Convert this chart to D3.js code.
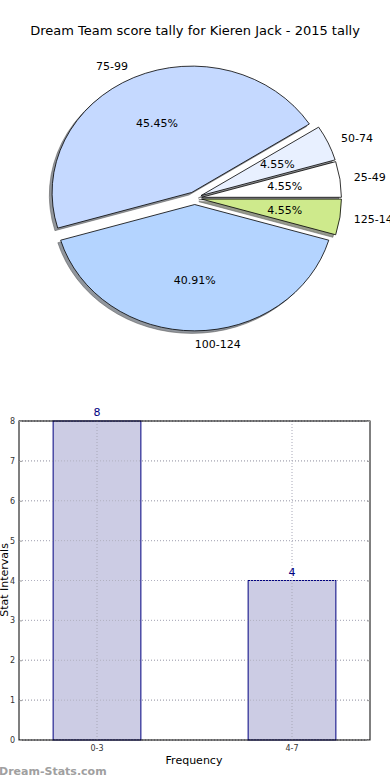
<!DOCTYPE html>
<html>
<head>
<meta charset="utf-8">
<script src="https://d3js.org/d3.v7.min.js"></script>
<style>
  body { margin: 0; background: #fff; }
  svg { display: block; font-family: "DejaVu Sans", sans-serif; }
</style>
</head>
<body>
<svg></svg>
<script>
// pie data (matplotlib order: counter-clockwise from 3 o'clock)
const pieLabels = ["25-49", "50-74", "75-99", "100-124", "125-149"];
const pieCounts = [1, 1, 10, 9, 1];
const pieColors = ["#ffffff", "#e8f0ff", "#c5d9ff", "#b4d4ff", "#ceea8c"];

// bar data
const barCats = ["0-3", "4-7"];
const barValues = [8, 4];
const yTicks = [0, 1, 2, 3, 4, 5, 6, 7, 8];

const width = 390, height = 780;
const svg = d3.select("svg").attr("width", width).attr("height", height);

svg.append("text")
    .attr("x", 195).attr("y", 35)
    .attr("text-anchor", "middle")
    .style("font-size", "13px")
    .text("Dream Team score tally for Kieren Jack - 2015 tally");

// ---- pie ----
const cx = 194.7, cy = 198.2, rx = 139.8, ry = 126.5;
const explode = 0.05;
const total = d3.sum(pieCounts);

const pie = d3.pie().sort(null)
    .startAngle(Math.PI / 2)
    .endAngle(Math.PI / 2 - 2 * Math.PI);
const arcs = pie(pieCounts);
const arc = d3.arc().innerRadius(0).outerRadius(1);

function offset(d, k) {
    const a = (d.startAngle + d.endAngle) / 2;
    return [cx + k * rx * Math.sin(a), cy - k * ry * Math.cos(a)];
}

const pieG = svg.append("g");
// shadows first
pieG.selectAll(".shadow")
    .data(arcs)
    .enter().append("path")
    .attr("class", "shadow")
    .attr("d", arc)
    .attr("transform", d => {
        const p = offset(d, explode);
        return `translate(${p[0] - 0.02 * rx},${p[1] + 0.02 * ry}) scale(${rx},${ry})`;
    })
    .style("fill", (d, i) => {
        const c = d3.rgb(pieColors[i]);
        return d3.rgb(c.r * 0.3, c.g * 0.3, c.b * 0.3);
    })
    .style("fill-opacity", 0.55)
    .style("stroke", "#555")
    .style("stroke-opacity", 0.5)
    .style("stroke-width", 1)
    .attr("vector-effect", "non-scaling-stroke");

pieG.selectAll(".wedge")
    .data(arcs)
    .enter().append("path")
    .attr("class", "wedge")
    .attr("d", arc)
    .attr("transform", d => {
        const p = offset(d, explode);
        return `translate(${p[0]},${p[1]}) scale(${rx},${ry})`;
    })
    .style("fill", (d, i) => pieColors[i])
    .style("stroke", "#000")
    .style("stroke-width", 0.8)
    .attr("vector-effect", "non-scaling-stroke");

// outer labels
pieG.selectAll(".lbl")
    .data(arcs)
    .enter().append("text")
    .attr("class", "lbl")
    .attr("x", d => offset(d, explode + 1.1)[0])
    .attr("y", d => offset(d, explode + 1.1)[1])
    .attr("dy", "0.35em")
    .attr("text-anchor", d => offset(d, explode + 1.1)[0] >= cx - 1 ? "start" : "end")
    .style("font-size", "11px")
    .text((d, i) => pieLabels[i]);

// percentage labels
pieG.selectAll(".pct")
    .data(arcs)
    .enter().append("text")
    .attr("class", "pct")
    .attr("x", d => offset(d, explode + 0.6)[0])
    .attr("y", d => offset(d, explode + 0.6)[1])
    .attr("dy", "0.35em")
    .attr("text-anchor", "middle")
    .style("font-size", "11px")
    .text(d => (d.value / total * 100).toFixed(2) + "%");

// ---- bar chart ----
const plotL = 19, plotR = 370, plotT = 421, plotB = 740;
const x = d3.scaleLinear().domain([-0.4, 1.4]).range([plotL, plotR]);
const y = d3.scaleLinear().domain([0, 8]).range([plotB, plotT]);
const barW = 0.45;

const barG = svg.append("g");

// grid
barG.selectAll(".hgrid")
    .data(yTicks)
    .enter().append("line")
    .attr("x1", plotL).attr("x2", plotR)
    .attr("y1", d => y(d)).attr("y2", d => y(d))
    .style("stroke", "#b0b0b0")
    .style("stroke-width", 1)
    .style("stroke-dasharray", "1,2");

barG.selectAll(".bar")
    .data(barValues)
    .enter().append("rect")
    .attr("x", (d, i) => x(i - barW / 2))
    .attr("width", x(barW) - x(0))
    .attr("y", d => y(d))
    .attr("height", d => plotB - y(d))
    .style("fill", "#ccccE4")
    .style("stroke", "#000080")
    .style("stroke-width", 1);

// grid drawn over bars too (matplotlib shows it through)
barG.selectAll(".vgrid")
    .data(barCats)
    .enter().append("line")
    .attr("x1", (d, i) => x(i)).attr("x2", (d, i) => x(i))
    .attr("y1", plotT).attr("y2", plotB)
    .style("stroke", "#a8a8b8")
    .style("stroke-width", 1)
    .style("stroke-dasharray", "1,2");

barG.selectAll(".hgrid2")
    .data(yTicks)
    .enter().append("line")
    .attr("x1", plotL).attr("x2", plotR)
    .attr("y1", d => y(d)).attr("y2", d => y(d))
    .style("stroke", "#b0b0c0")
    .style("stroke-width", 1)
    .style("stroke-dasharray", "1,2");

barG.selectAll(".val")
    .data(barValues)
    .enter().append("text")
    .attr("x", (d, i) => x(i))
    .attr("y", d => y(d) - 5)
    .attr("text-anchor", "middle")
    .style("font-size", "11px")
    .style("fill", "#000080")
    .text(d => d);

// frame
barG.append("rect")
    .attr("x", plotL).attr("y", plotT)
    .attr("width", plotR - plotL).attr("height", plotB - plotT)
    .style("fill", "none")
    .style("stroke", "#000")
    .style("stroke-width", 1);

// y axis ticks (inside, both sides)
const yAxis = d3.axisLeft(y).tickValues(yTicks).tickSize(-3).tickPadding(4);
const yg = barG.append("g").attr("transform", `translate(${plotL},0)`).call(yAxis);
yg.select(".domain").remove();
yg.selectAll("line").style("stroke", "#999");
yg.selectAll("text").style("font-size", "8px").style("fill", "#333")
    .style("font-family", "DejaVu Sans, sans-serif");

const yAxisR = d3.axisRight(y).tickValues(yTicks).tickSize(-3).tickFormat("");
const ygr = barG.append("g").attr("transform", `translate(${plotR},0)`).call(yAxisR);
ygr.select(".domain").remove();
ygr.selectAll("line").style("stroke", "#999");

// x axis labels
barG.selectAll(".xlbl")
    .data(barCats)
    .enter().append("text")
    .attr("x", (d, i) => x(i))
    .attr("y", plotB + 11)
    .attr("text-anchor", "middle")
    .style("font-size", "8px")
    .style("fill", "#333")
    .text(d => d);

svg.append("text")
    .attr("x", 194).attr("y", 764)
    .attr("text-anchor", "middle")
    .style("font-size", "11px")
    .text("Frequency");

svg.append("text")
    .attr("transform", "translate(8,580) rotate(-90)")
    .attr("text-anchor", "middle")
    .style("font-size", "11px")
    .text("Stat Intervals");

svg.append("text")
    .attr("x", -1).attr("y", 775)
    .style("font-size", "11px")
    .style("font-weight", "bold")
    .style("fill", "#a0a0a0")
    .text("Dream-Stats.com");
</script>
</body>
</html>
